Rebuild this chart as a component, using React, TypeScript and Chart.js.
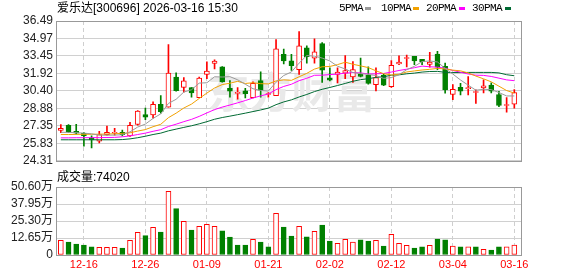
import React, { useEffect, useRef } from "react";
import { Chart, registerables } from "chart.js";
Chart.register(...registerables);

const stockTitle = "爱乐达[300696]";
const stamp = "2026-03-16 15:30";

const dates = ["12-11","12-12","12-15","12-16","12-17","12-18","12-19","12-22","12-23","12-24","12-25","12-26","12-29","12-30","12-31","01-05","01-06","01-07","01-08","01-09","01-12","01-13","01-14","01-15","01-16","01-19","01-20","01-21","01-22","01-23","01-26","01-27","01-28","01-29","01-30","02-02","02-03","02-04","02-05","02-06","02-09","02-10","02-11","02-12","02-13","02-24","02-25","02-26","02-27","03-02","03-03","03-04","03-05","03-06","03-09","03-10","03-11","03-12","03-13","03-16"];

const opens = [26.96,27.41,26.88,26.71,26.31,26.03,26.59,26.71,26.79,26.48,27.47,28.34,28.31,29.24,28.99,31.60,30.71,30.68,29.81,31.84,32.80,32.49,30.63,30.18,30.40,29.81,31.30,30.09,29.98,33.59,33.02,32.26,34.15,33.25,34.52,31.53,31.84,31.95,31.61,31.84,31.78,30.94,31.78,30.77,32.74,33.22,33.42,33.16,32.71,33.61,32.54,30.09,30.71,30.60,30.26,30.66,30.91,30.09,29.13,29.24];
const highs = [27.47,27.47,27.49,26.76,26.48,26.88,27.33,27.13,26.99,27.67,28.68,28.90,29.44,30.00,34.43,31.97,31.55,30.68,31.61,32.94,33.10,32.52,31.30,30.68,30.63,31.19,32.06,30.26,34.88,34.04,33.59,35.56,34.32,34.94,34.60,32.40,32.40,33.47,32.96,33.25,32.49,32.40,31.89,33.05,33.45,33.53,33.42,33.16,33.75,33.84,32.82,30.96,31.05,31.64,30.49,31.36,31.10,30.37,29.81,30.51];
const lows = [26.76,26.79,26.62,25.58,25.44,25.86,26.54,26.54,26.48,26.43,27.41,27.89,28.03,28.46,28.99,30.38,30.29,29.86,29.81,31.47,32.32,31.16,29.86,29.69,29.78,29.78,29.86,29.86,29.98,32.74,32.18,31.84,32.82,32.82,31.13,31.27,31.10,31.47,31.13,31.61,30.99,30.40,30.85,30.71,32.68,32.49,32.68,32.68,32.46,32.26,30.20,29.64,30.06,30.06,29.30,30.23,30.23,29.02,28.54,28.90];
const closes = [27.13,26.85,26.71,26.48,26.12,26.59,26.79,26.79,26.59,27.41,28.65,28.12,29.24,28.60,31.95,30.43,31.27,30.23,31.52,32.12,32.99,31.19,30.38,30.18,30.15,31.05,30.46,30.09,34.07,33.02,32.60,34.32,33.39,33.81,32.20,31.33,32.04,32.18,32.26,31.67,31.05,31.55,30.91,32.63,32.91,33.25,33.02,32.94,32.91,32.46,30.48,30.54,30.38,30.66,30.26,30.85,30.38,29.13,29.18,30.26];

// volume in 万
const volumes = [10.9,9.7,8.2,7.4,6.0,5.7,5.7,5.7,5.2,10.9,16.9,14.4,20.6,17.1,47.4,34.5,25.1,18.6,21.3,22.8,21.3,17.9,13.4,7.4,7.4,11.7,9.7,6.0,31.0,20.8,14.1,21.3,13.6,17.6,22.3,10.4,8.7,11.7,9.7,11.2,10.4,10.9,6.7,15.4,8.7,7.2,5.2,6.0,7.2,11.9,11.2,6.7,6.0,6.0,6.0,4.2,3.7,6.0,6.0,7.402];

const ma5 = [26.80,26.78,26.76,26.72,26.66,26.55,26.54,26.55,26.58,26.83,27.25,27.51,28.00,28.40,29.31,29.67,30.30,30.50,31.08,31.11,31.63,31.61,31.64,31.37,30.98,30.59,30.44,30.39,31.16,31.74,32.05,32.82,33.48,33.43,33.26,33.01,32.55,32.31,32.00,31.90,31.84,31.74,31.49,31.56,31.81,32.25,32.54,32.95,33.01,32.92,32.36,31.87,31.35,30.90,30.46,30.54,30.51,30.26,29.96,29.96];
const ma10 = [26.60,26.60,26.61,26.62,26.62,26.63,26.64,26.66,26.70,26.75,26.90,27.03,27.28,27.49,28.07,28.46,28.91,29.25,29.74,30.21,30.65,30.95,31.07,31.23,31.05,31.11,31.03,31.01,31.27,31.36,31.32,31.63,31.93,32.30,32.50,32.53,32.69,32.90,32.72,32.58,32.43,32.15,31.90,31.78,31.85,32.05,32.14,32.22,32.28,32.36,32.31,32.21,32.15,31.96,31.69,31.45,31.19,30.81,30.43,30.21];
const ma20 = [26.31,26.31,26.32,26.32,26.33,26.33,26.34,26.35,26.40,26.48,26.60,26.72,26.88,27.02,27.30,27.50,27.72,27.92,28.18,28.48,28.77,28.99,29.17,29.36,29.56,29.78,29.97,30.13,30.51,30.79,30.98,31.29,31.50,31.76,31.77,31.82,31.86,31.95,31.99,31.97,31.87,31.89,31.92,32.04,32.18,32.29,32.42,32.56,32.50,32.47,32.37,32.18,32.03,31.87,31.77,31.75,31.66,31.51,31.36,31.29];
const ma30 = [26.14,26.14,26.14,26.14,26.14,26.14,26.14,26.14,26.16,26.22,26.32,26.45,26.60,26.72,26.92,27.07,27.22,27.36,27.53,27.72,27.93,28.08,28.20,28.33,28.46,28.60,28.74,28.90,29.20,29.44,29.62,29.87,30.09,30.34,30.54,30.70,30.87,31.05,31.24,31.38,31.46,31.58,31.63,31.77,31.80,31.89,31.95,32.04,32.09,32.10,32.02,32.00,32.00,32.01,32.01,32.01,32.01,31.97,31.81,31.72];

const priceTicks = [24.31, 25.83, 27.35, 28.88, 30.40, 31.92, 33.45, 34.97, 36.49];
const volTicks = [0, 12.65, 25.30, 37.95, 50.60];
const labelIdx = [3, 11, 19, 27, 35, 43, 51, 59];

const maNames = ["5PMA", "10PMA", "20PMA", "30PMA"];
const maColors = ["#9a9a9a", "#f2a100", "#ff00ff", "#006a33"];

const RED = "#ff0000";
const GREEN = "#008000";
const FONT = '"Liberation Sans", "Noto Sans CJK SC", sans-serif';

const framePlugin = {
  id: "frame",
  beforeDatasetsDraw(chart: any) {
    const { ctx, chartArea: a } = chart;
    ctx.save();
    ctx.strokeStyle = "#999999";
    ctx.lineWidth = 1;
    ctx.strokeRect(Math.round(a.left) - 0.5, Math.round(a.top) + 0.5, Math.round(a.right - a.left), Math.round(a.bottom - a.top));
    ctx.restore();
  },
};

const watermarkPlugin = {
  id: "watermark",
  beforeDatasetsDraw(chart: any) {
    const { ctx, chartArea: a } = chart;
    ctx.save();
    ctx.fillStyle = "#e9e9e9";
    ctx.font = 'bold 42px "Noto Sans CJK SC", sans-serif';
    ctx.textAlign = "center";
    ctx.textBaseline = "middle";
    ctx.fillText("东方财富", (a.left + a.right) / 2 + 2, 92);
    ctx.restore();
  },
};

export default function App() {
  const priceRef = useRef<HTMLCanvasElement>(null);
  const volRef = useRef<HTMLCanvasElement>(null);

  useEffect(() => {
    const up = closes.map((c, i) => c >= opens[i]);
    const volUp = closes.map((c, i) =>
      c > opens[i] || (c === opens[i] && (i === 0 || c >= closes[i - 1]))
    );
    const xScaleBase = (showLabels: boolean) => ({
      type: "linear" as const,
      min: -0.5,
      max: 60,
      offset: false,
      afterBuildTicks: (s: any) => {
        s.ticks = labelIdx.map((v) => ({ value: v }));
      },
      afterFit: (s: any) => {
        s.height = showLabels ? 21 : 0;
      },
      grid: { color: "#cfcfcf", drawTicks: false, lineWidth: 1, offset: false },
      border: { display: false, dash: [4, 3] },
      ticks: {
        display: showLabels,
        padding: 3,
        autoSkip: false,
        maxRotation: 0,
        color: RED,
        font: { family: FONT, size: 11 },
        callback: (v: any) => dates[v as number],
      },
    });
    const yTicks = (vals: number[], fmt: (v: number) => string) => ({
      padding: 4,
      autoSkip: false,
      color: "#222",
      font: { family: FONT, size: 12 },
      callback: (v: any) => fmt(Number(v)),
    });

    const priceChart = new Chart(priceRef.current!, {
      type: "bar",
      data: {
        datasets: [
          ...[ma5, ma10, ma20, ma30].map((arr, k) => ({
            type: "line" as const,
            label: maNames[k],
            data: arr.map((v, i) => ({ x: i, y: v })),
            borderColor: maColors[k],
            borderWidth: 1,
            pointRadius: 0,
            tension: 0,
            order: 1,
          })),
          {
            type: "bar" as const,
            label: "body",
            data: opens.map((o, i) => ({ x: i, y: [Math.min(o, closes[i]), Math.max(o, closes[i])] })),
            backgroundColor: up.map((u) => (u ? "#ffffff" : GREEN)),
            borderColor: up.map((u) => (u ? RED : GREEN)),
            borderWidth: 1,
            borderSkipped: false,
            barThickness: 5,
            minBarLength: 1,
            grouped: false,
            order: 2,
          },
          {
            type: "bar" as const,
            label: "wick",
            data: highs.map((h, i) => ({ x: i, y: [lows[i], h] })),
            backgroundColor: up.map((u) => (u ? RED : GREEN)),
            borderWidth: 0,
            barThickness: 1,
            grouped: false,
            order: 3,
          },
        ] as any,
      },
      options: {
        responsive: false,
        animation: false,
        devicePixelRatio: 1,
        layout: { padding: { top: 21, right: 56, bottom: 7, left: 0 } },
        plugins: { legend: { display: false }, tooltip: { enabled: false } },
        scales: {
          x: xScaleBase(false) as any,
          y: {
            type: "linear",
            min: priceTicks[0],
            max: priceTicks[priceTicks.length - 1],
            afterBuildTicks: (s: any) => {
              s.ticks = priceTicks.map((v) => ({ value: v }));
            },
            afterFit: (s: any) => {
              s.width = 57;
            },
            grid: { color: "#d0d0d0", drawTicks: false },
            border: { display: false },
            ticks: yTicks(priceTicks, (v) => v.toFixed(2)),
          },
        },
      },
      plugins: [framePlugin, watermarkPlugin],
    });

    const volChart = new Chart(volRef.current!, {
      type: "bar",
      data: {
        datasets: [
          {
            label: "vol",
            data: volumes.map((v, i) => ({ x: i, y: v })),
            backgroundColor: volUp.map((u) => (u ? "#ffffff" : GREEN)),
            borderColor: volUp.map((u) => (u ? RED : GREEN)),
            borderWidth: 1,
            borderSkipped: false,
            barThickness: 5,
          },
        ] as any,
      },
      options: {
        responsive: false,
        animation: false,
        devicePixelRatio: 1,
        layout: { padding: { top: 19, right: 56, bottom: 0, left: 0 } },
        plugins: { legend: { display: false }, tooltip: { enabled: false } },
        scales: {
          x: xScaleBase(true) as any,
          y: {
            type: "linear",
            min: 0,
            max: volTicks[volTicks.length - 1],
            afterBuildTicks: (s: any) => {
              s.ticks = volTicks.map((v) => ({ value: v }));
            },
            afterFit: (s: any) => {
              s.width = 57;
            },
            grid: { color: "#d0d0d0", drawTicks: false },
            border: { display: false },
            ticks: yTicks(volTicks, (v) => (v === 0 ? "0" : v.toFixed(2) + "万")),
          },
        },
      },
      plugins: [framePlugin],
    });

    return () => {
      priceChart.destroy();
      volChart.destroy();
    };
  }, []);

  const legendTextLeft = [339, 381, 426, 472];
  const legendMarkLeft = [365, 413, 459, 505];

  return (
    <div style={{ position: "fixed", left: 0, top: 0, width: 578, height: 276, background: "#fff", overflow: "hidden" }}>
      <canvas ref={priceRef} width={578} height={172} style={{ position: "absolute", left: 0, top: 0 }} />
      <canvas ref={volRef} width={578} height={108} style={{ position: "absolute", left: 0, top: 168 }} />
      <div style={{ position: "absolute", left: 57, top: 2, font: `12px ${FONT}`, lineHeight: "12px", color: "#000", whiteSpace: "nowrap" }}>
        {stockTitle} {stamp}
      </div>
      {maNames.map((n, k) => (
        <React.Fragment key={n}>
          <div style={{ position: "absolute", left: legendTextLeft[k], top: 3, font: '11px "Liberation Mono", monospace', letterSpacing: "-0.6px", lineHeight: "11px", color: "#000", whiteSpace: "nowrap" }}>
            {n}
          </div>
          <div style={{ position: "absolute", left: legendMarkLeft[k], top: 7, width: 6, height: 3, background: maColors[k] }} />
        </React.Fragment>
      ))}
      <div style={{ position: "absolute", left: 57, top: 171, font: `12px ${FONT}`, lineHeight: "12px", color: "#000", whiteSpace: "nowrap" }}>
        成交量:{Math.round(volumes[volumes.length - 1] * 10000)}
      </div>
    </div>
  );
}
